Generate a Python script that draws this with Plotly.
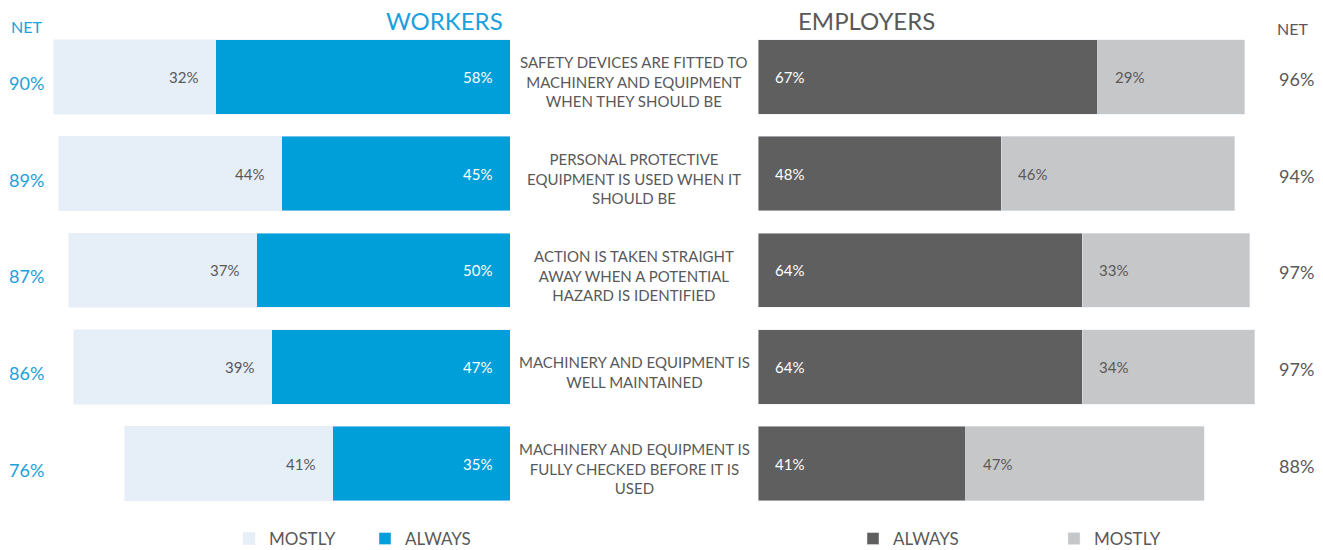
import plotly.graph_objects as go

# data
STATEMENTS = [
    'SAFETY DEVICES ARE FITTED TO<br>MACHINERY AND EQUIPMENT<br>WHEN THEY SHOULD BE',
    'PERSONAL PROTECTIVE<br>EQUIPMENT IS USED WHEN IT<br>SHOULD BE',
    'ACTION IS TAKEN STRAIGHT<br>AWAY WHEN A POTENTIAL<br>HAZARD IS IDENTIFIED',
    'MACHINERY AND EQUIPMENT IS<br>WELL MAINTAINED',
    'MACHINERY AND EQUIPMENT IS<br>FULLY CHECKED BEFORE IT IS<br>USED',
]
workers_always = [58, 45, 50, 47, 35]
workers_mostly = [32, 44, 37, 39, 41]
workers_net = [90, 89, 87, 86, 76]
employers_always = [67, 48, 64, 64, 41]
employers_mostly = [29, 46, 33, 34, 47]
employers_net = [96, 94, 97, 97, 88]

W, H = 1323, 557
PX_PER_PCT = 5.07
FONT = 'Lato'
GREY_TEXT = '#595959'
BLUE = '#009FDA'
BLUE_TEXT = '#1BA1DC'
LIGHT_BLUE = '#E6EEF8'
DARK = '#5F5F5F'
LIGHT_GREY = '#C6C7C9'

rows = list(range(len(STATEMENTS)))

fig = go.Figure()

# workers (left panel, reversed x)
fig.add_trace(go.Bar(y=rows, x=workers_always, orientation='h', name='ALWAYS',
                     marker_color=BLUE, width=0.77, xaxis='x', yaxis='y',
                     legend='legend', hoverinfo='x'))
fig.add_trace(go.Bar(y=rows, x=workers_mostly, orientation='h', name='MOSTLY',
                     marker_color=LIGHT_BLUE, width=0.77, xaxis='x', yaxis='y',
                     legend='legend', hoverinfo='x'))
# employers (right panel)
fig.add_trace(go.Bar(y=rows, x=employers_always, orientation='h', name='ALWAYS',
                     marker_color=DARK, width=0.77, xaxis='x2', yaxis='y',
                     legend='legend2', hoverinfo='x'))
fig.add_trace(go.Bar(y=rows, x=employers_mostly, orientation='h', name='MOSTLY',
                     marker_color=LIGHT_GREY, width=0.77, xaxis='x2', yaxis='y',
                     legend='legend2', hoverinfo='x'))

annotations = []
for i in rows:
    # value labels
    annotations.append(dict(x=0, y=i, xref='x', yref='y', text=f'{workers_always[i]}%',
                            xanchor='right', xshift=-16, showarrow=False,
                            font=dict(color='white', size=15)))
    annotations.append(dict(x=workers_always[i], y=i, xref='x', yref='y',
                            text=f'{workers_mostly[i]}%', xanchor='right', xshift=-16,
                            showarrow=False, font=dict(color=GREY_TEXT, size=15)))
    annotations.append(dict(x=0, y=i, xref='x2', yref='y', text=f'{employers_always[i]}%',
                            xanchor='left', xshift=15, showarrow=False,
                            font=dict(color='white', size=15)))
    annotations.append(dict(x=employers_always[i], y=i, xref='x2', yref='y',
                            text=f'{employers_mostly[i]}%', xanchor='left', xshift=15,
                            showarrow=False, font=dict(color=GREY_TEXT, size=15)))
    # statements in the middle
    annotations.append(dict(x=634 / W, y=i, xref='paper', yref='y', text=STATEMENTS[i],
                            xanchor='center', yshift=-5, showarrow=False,
                            font=dict(color=GREY_TEXT, size=15)))
    # net columns
    annotations.append(dict(x=26 / W, y=i, xref='paper', yref='y', text=f'{workers_net[i]}%',
                            xanchor='center', yshift=-6, showarrow=False,
                            font=dict(color=BLUE_TEXT, size=18)))
    annotations.append(dict(x=1296 / W, y=i, xref='paper', yref='y',
                            text=f'{employers_net[i]}%', xanchor='center', yshift=-2,
                            showarrow=False, font=dict(color=GREY_TEXT, size=18)))

# headers
annotations += [
    dict(x=505 / W, y=1 - 20 / H, xref='paper', yref='paper', text='WORKERS',
         xanchor='right', yanchor='middle', showarrow=False,
         font=dict(color=BLUE_TEXT, size=24)),
    dict(x=796 / W, y=1 - 20 / H, xref='paper', yref='paper', text='EMPLOYERS',
         xanchor='left', yanchor='middle', showarrow=False,
         font=dict(color=GREY_TEXT, size=24)),
    dict(x=26 / W, y=1 - 26 / H, xref='paper', yref='paper', text='NET',
         xanchor='center', yanchor='middle', showarrow=False,
         font=dict(color=BLUE_TEXT, size=16)),
    dict(x=1292 / W, y=1 - 28 / H, xref='paper', yref='paper', text='NET',
         xanchor='center', yanchor='middle', showarrow=False,
         font=dict(color=GREY_TEXT, size=16)),
]

row_px = 96.7
top_center = 76.8
fig.update_layout(
    width=W, height=H,
    barmode='stack',
    margin=dict(l=0, r=0, t=0, b=0),
    plot_bgcolor='white',
    paper_bgcolor='white',
    font=dict(family=FONT, color=GREY_TEXT),
    xaxis=dict(domain=[0, 510 / W], range=[510 / PX_PER_PCT, 0], visible=False,
               fixedrange=True),
    xaxis2=dict(domain=[758 / W, 1], range=[0, (W - 758) / PX_PER_PCT], visible=False,
                anchor='y', fixedrange=True),
    yaxis=dict(range=[4 + (H - 463.7) / row_px, -top_center / row_px], visible=False,
               fixedrange=True),
    annotations=annotations,
    legend=dict(orientation='h', x=229 / W, xanchor='left', y=1 - 539 / H,
                yanchor='middle', traceorder='reversed', entrywidth=91,
                font=dict(size=17, color=GREY_TEXT), bgcolor='rgba(0,0,0,0)'),
    legend2=dict(orientation='h', x=853 / W, xanchor='left', y=1 - 539 / H,
                 yanchor='middle', traceorder='normal', entrywidth=156,
                 font=dict(size=17, color=GREY_TEXT), bgcolor='rgba(0,0,0,0)'),
)

# page has no margin or scrollbars
page_js = (
    "document.documentElement.style.margin='0';"
    "document.documentElement.style.overflow='hidden';"
    "document.body.style.margin='0';"
    "document.body.style.overflow='hidden';"
)
fig.write_html("out.html", config={'displayModeBar': False}, post_script=page_js)
